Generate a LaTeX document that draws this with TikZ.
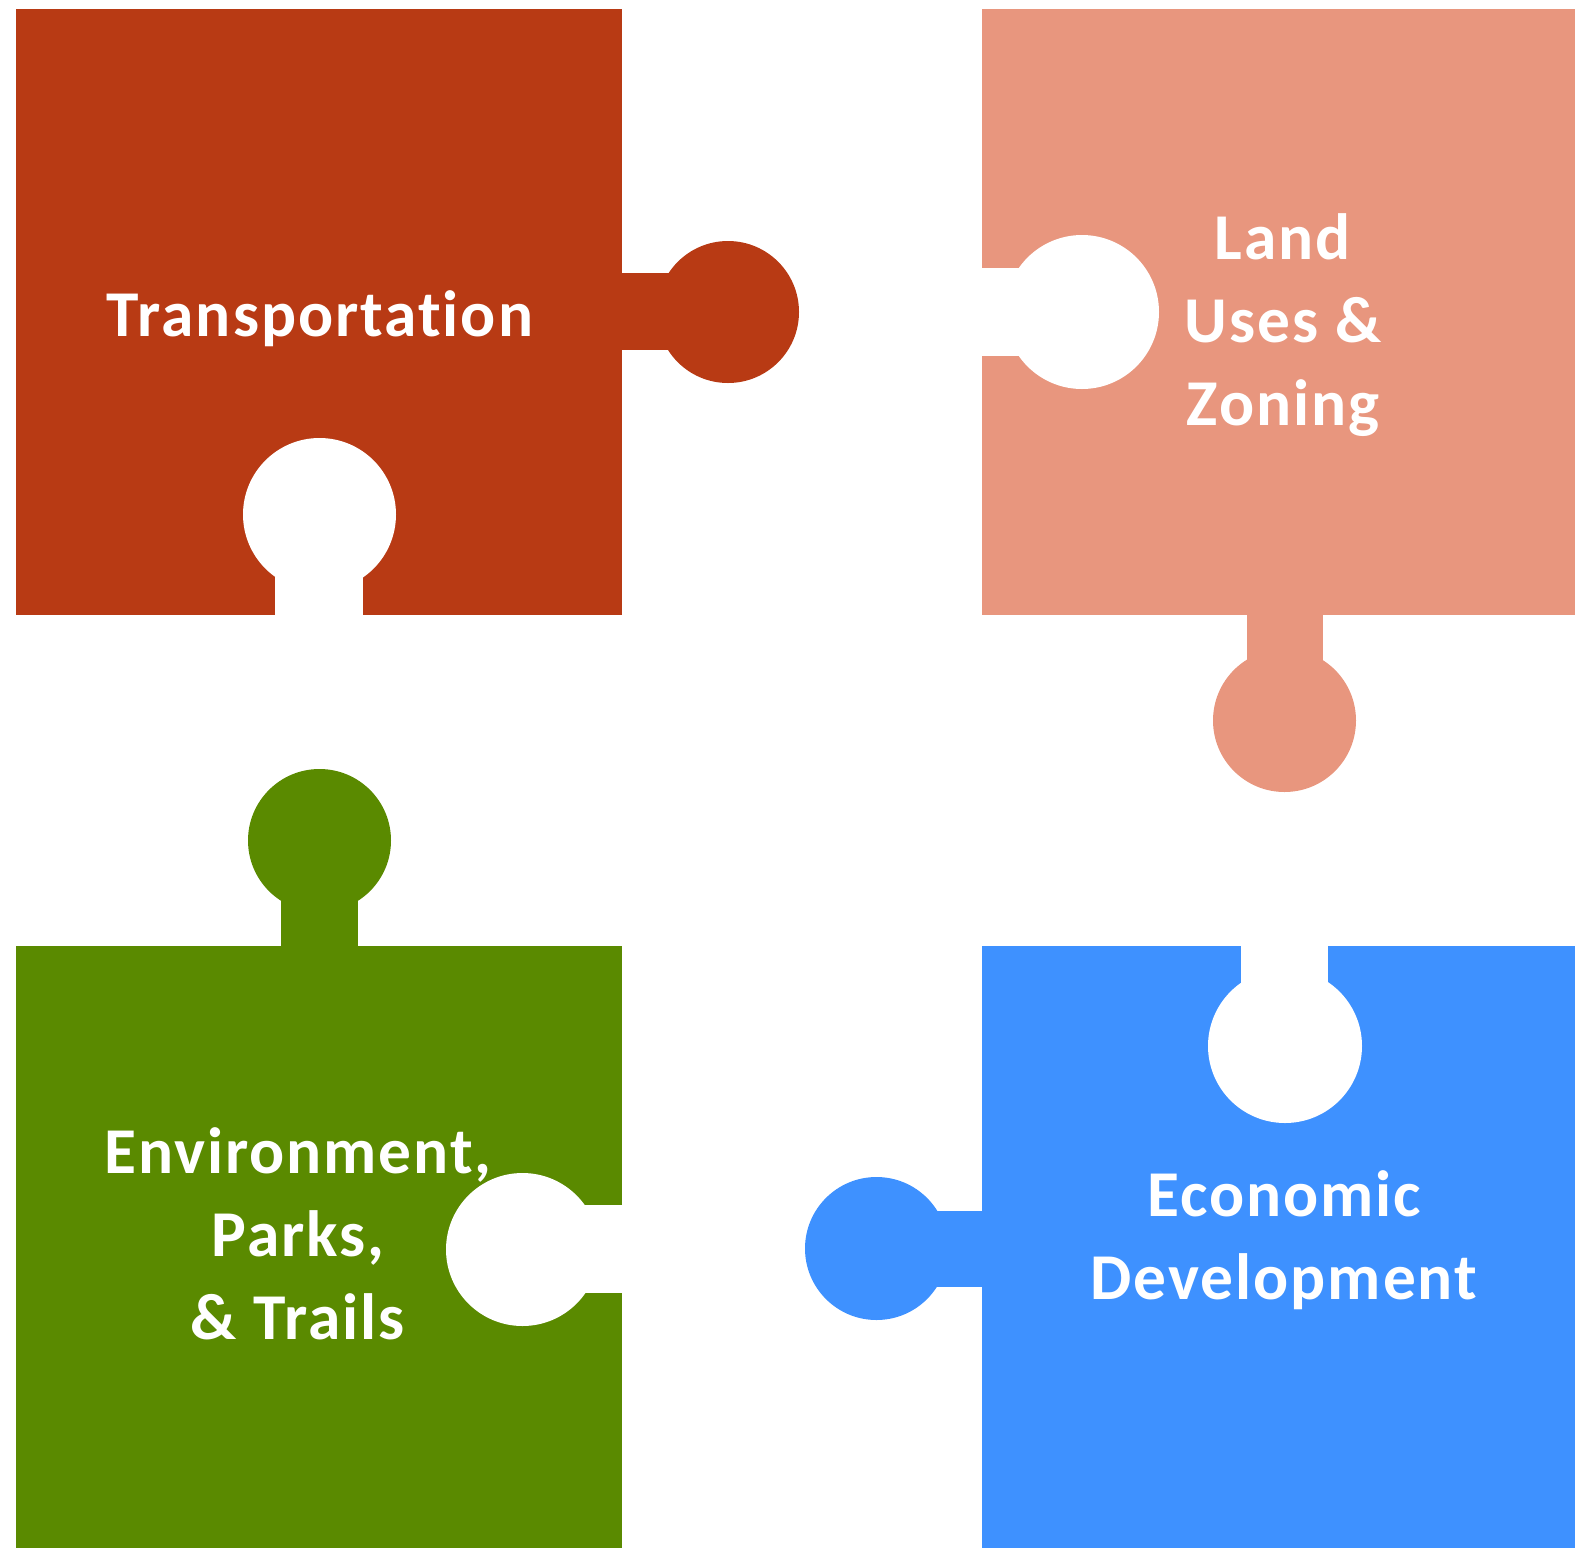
\documentclass[tikz,border=0pt]{standalone}
\usepackage{fontspec}
\setmainfont{Carlito}[LetterSpace=3,Ligatures=NoCommon]
\definecolor{transred}{RGB}{184,58,20}
\definecolor{landpink}{RGB}{232,150,126}
\definecolor{envgreen}{RGB}{90,138,0}
\definecolor{econblue}{RGB}{62,145,255}
\begin{document}
\begin{tikzpicture}[x=0.01cm,y=-0.01cm,
  piecetext/.style={text=white, font=\bfseries\fontsize{18.6}{23.6}\selectfont, align=center, inner sep=0pt}]
\useasboundingbox (0,0) rectangle (1575,1548);
% transportation
\fill[transred] (16,9) rectangle (622,615);
\fill[transred] (622,273) rectangle (700,350); \fill[transred] (728,312) circle[radius=71];
\fill[white] (275,560) rectangle (363,616); \fill[white] (319.5,514.5) circle[radius=76.5];
% land uses
\fill[landpink] (982,9) rectangle (1575,615);
\fill[white] (981,268) rectangle (1040,356); \fill[white] (1082,312) circle[radius=77];
\fill[landpink] (1247,614) rectangle (1323,690); \fill[landpink] (1284.5,720.5) circle[radius=71.5];
% environment
\fill[envgreen] (16,946) rectangle (622,1548);
\fill[envgreen] (281,880) rectangle (358,947); \fill[envgreen] (319.5,840.5) circle[radius=71.5];
\fill[white] (560,1205) rectangle (623,1293); \fill[white] (522.5,1249.5) circle[radius=76.5];
% economic
\fill[econblue] (982,946) rectangle (1575,1548);
\fill[white] (1241,945) rectangle (1328,1000); \fill[white] (1285,1046) circle[radius=77];
\fill[econblue] (900,1211) rectangle (983,1287); \fill[econblue] (876.5,1248.5) circle[radius=71.5];
% labels (base = last line)
\node[piecetext, anchor=base] (transport) at (320,336.5) {Transportation};
\node[piecetext, anchor=base] (landuse) at (1283,425) {Land\\Uses \&\\Zoning};
\node[piecetext, anchor=base] (environ) at (298,1339) {Environment,\\Parks,\\\& Trails};
\node[piecetext, anchor=base] (econ) at (1284,1299) {Economic\\Development};
\end{tikzpicture}
\end{document}
